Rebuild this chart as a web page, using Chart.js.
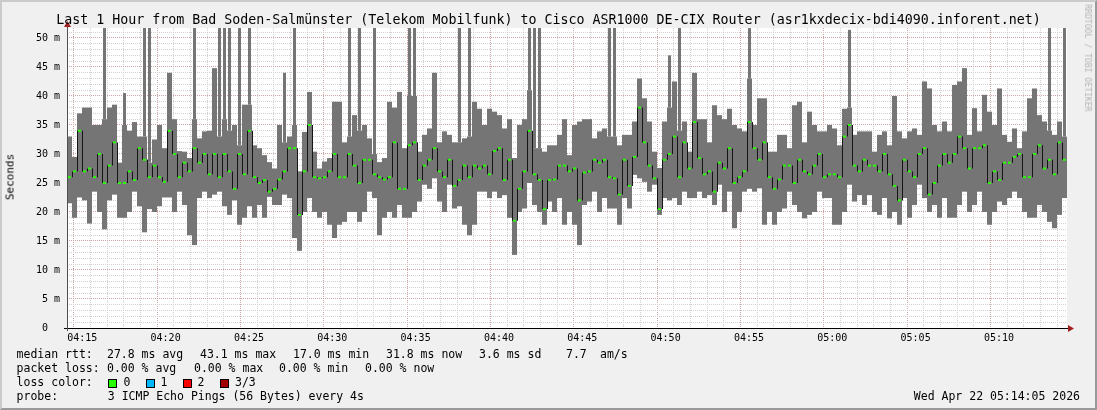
<!DOCTYPE html>
<html><head><meta charset="utf-8">
<script src="https://cdn.jsdelivr.net/npm/chart.js@4.4.1/dist/chart.umd.min.js"></script>
<style>
html,body{margin:0;padding:0;background:#f0f0f0;}
#wrap{position:relative;width:1097px;height:410px;overflow:hidden;background:#f0f0f0;}
#frame{position:absolute;left:0;top:0;width:1097px;height:410px;box-sizing:border-box;border-top:2px solid #cbcbcb;border-left:2px solid #cbcbcb;border-right:2px solid #999;border-bottom:2px solid #999;pointer-events:none;}
canvas{position:absolute;left:0;top:0;}
.t{position:absolute;font-family:"DejaVu Sans Mono",monospace;white-space:pre;color:#000;line-height:1;}
.l{font-size:11.5px;}
.box{position:absolute;width:7px;height:7px;border:1px solid #000;}
</style></head>
<body><div id="wrap">
<canvas id="c" width="1097" height="410"></canvas>
<div class="t" style="left:0;width:1097px;text-align:center;top:12.7px;font-size:13.3px">Last 1 Hour from Bad Soden-Salmünster (Telekom Mobilfunk) to Cisco ASR1000 DE-CIX Router (asr1kxdecix-bdi4090.inforent.net)</div>
<div class="t" style="left:10px;top:177px;font-size:11px;transform:translate(-50%,-50%) rotate(-90deg);">Seconds</div>
<div class="t" style="left:1087.5px;top:58px;font-size:8.1px;color:#b4b4b4;transform:translate(-50%,-50%) rotate(90deg);">RRDTOOL / TOBI OETIKER</div>

<div class="t l" style="left:16.6px;top:348.8px">median rtt:</div>
<div class="t l" style="left:107px;top:348.8px">27.8 ms avg</div>
<div class="t l" style="left:200px;top:348.8px">43.1 ms max</div>
<div class="t l" style="left:293px;top:348.8px">17.0 ms min</div>
<div class="t l" style="left:386px;top:348.8px">31.8 ms now</div>
<div class="t l" style="left:479px;top:348.8px">3.6 ms sd</div>
<div class="t l" style="left:566px;top:348.8px">7.7</div>
<div class="t l" style="left:600px;top:348.8px">am/s</div>

<div class="t l" style="left:16.6px;top:362.8px">packet loss:</div>
<div class="t l" style="left:107px;top:362.8px">0.00 % avg</div>
<div class="t l" style="left:194px;top:362.8px">0.00 % max</div>
<div class="t l" style="left:279px;top:362.8px">0.00 % min</div>
<div class="t l" style="left:365px;top:362.8px">0.00 % now</div>

<div class="t l" style="left:16.6px;top:376.8px">loss color:</div>
<div class="box" style="left:108px;top:378.5px;background:#26ff00"></div>
<div class="t l" style="left:123.5px;top:376.8px">0</div>
<div class="box" style="left:146px;top:378.5px;background:#00b8ff"></div>
<div class="t l" style="left:160.5px;top:376.8px">1</div>
<div class="box" style="left:183px;top:378.5px;background:#ff0000"></div>
<div class="t l" style="left:197.5px;top:376.8px">2</div>
<div class="box" style="left:220px;top:378.5px;background:#a00000"></div>
<div class="t l" style="left:235px;top:376.8px">3/3</div>

<div class="t l" style="left:16.6px;top:390.8px">probe:</div>
<div class="t l" style="left:107.8px;top:390.8px">3 ICMP Echo Pings (56 Bytes) every 4s</div>
<div class="t l" style="right:17px;top:390.8px">Wed Apr 22 05:14:05 2026</div>
<div id="frame"></div>
</div>
<script>
// time axis: minutes after 04:00; one sample every 18 s from 04:14:05 to 05:14:05
const startMinute = 14 + 5/60;
const endMinute = 74 + 5/60;
const sampleMinutes = 0.3;
const xTickMinutes = [15,20,25,30,35,40,45,50,55,60,65,70];
const xTickLabels = ["04:15","04:20","04:25","04:30","04:35","04:40","04:45","04:50","04:55","05:00","05:05","05:10"];
const yTickValues = [0,5,10,15,20,25,30,35,40,45,50];
const yTickLabels = ["0  ","5 m","10 m","15 m","20 m","25 m","30 m","35 m","40 m","45 m","50 m"];

// round-trip times in ms: lowest ping, highest usual ping, median ping per sample
const smokeMin = [
21.5,19,22.5,22,18,23.5,20,17,22,23, 19,19,20,23.5,21,16.5,20.5,20,21,22.5,
22.5,20,23.5,21.2,16,14.3,22.4,23.5,22.4,23, 23.5,21,19.5,22,17.8,19,21,19,21.2,19,
22.6,21.2,21.2,23,22.4,15.5,13.3,20,22.4,20, 19,20,17.8,15.5,17.8,18.3,20,20,18.3,20,
23.5,22.4,16,19,20,19,21.2,19,19,20, 21.8,24.7,24,25.8,21.8,20,24.7,20.6,21,17.8,
16,17.8,23.5,23.5,22.4,23.5,22.4,22.9,19,12.6, 20,20.6,25,21.2,20,17.8,21.8,20,22.4,17.8,
20,17.8,14.3,21.2,21.8,23.5,20,22.4,20.6,20.6, 17.8,22.4,20.6,26.4,25.8,25.2,23.5,24.7,19.5,22.4,
22,22.4,21.2,23.5,22.4,22.4,23.5,22.4,22.9,21.2, 24.7,20,23.5,17.2,20,23.5,24,23.5,24.1,17.8,
20,17.8,20,20.6,23.5,21.2,20,18.9,19.5,20, 23.5,22.4,22.4,17.8,17.8,20,24.7,21.8,22.9,21.2,
22.9,20,19.5,22.4,18.9,20,17.8,22.4,19,21.2, 24.7,22.4,20,21.2,19,22.4,19,19,21.2,23.5,
20,21.2,23.5,20,17.8,20,21.8,21.2,22.4,23.5, 22.4,20,19,19,21.2,20,18.3,17.2,19.5,22.4];
const smokeMax = [
33,29.5,37,38,38,35,35,36,38,38.5, 28.5,35,34,35.5,33,33,28.5,32.5,35,31,
44,36,30.5,30.4,29.3,36,32.7,33.9,34,44.8, 33,36,34,35,31.5,38.5,38.5,31.5,31,29.8,
28.6,27.5,35,32,33,35,27,33.8,40.7,30.4, 27.5,28.7,29.3,39,39,32,33,36.7,34,35,
32.7,30,28.6,29.3,39,38,40.7,31,40,40, 30.4,33.3,34.4,44,32,33.9,33.3,32,32,32.7,
33,39,37.8,35,37.8,37.3,36.7,34.4,36,29.3, 35,36,41,31,31,30.4,31.5,31.5,33.3,36,
29.8,35,35.6,36,36,32.7,33.9,34.4,33,33, 31.5,33.3,33.3,35.6,43,39.6,35.6,30.4,27.6,35.6,
38,42.5,34,35.6,30.4,44,36,36,32,38.4, 36.7,36,37.8,35,34.4,33.9,43,35,39.6,39.6,
30.4,30.4,33.3,33.3,31,38.4,39,32,37.3,35, 33.9,33.9,35,34.4,31.5,37.8,38,33.3,33.9,33.9,
33.9,30.4,33.3,33.9,31.5,40,33.9,32.7,33.9,34.4, 33.3,42.5,41.3,35,33.9,35.6,33.9,41.9,42.5,44.8,
33.3,37.9,33.9,40.2,37.3,35,41.3,33.3,32.1,34.4, 31,33.9,39.6,41.3,36.7,35.6,34,33.3,35.6,33];
const medianRtt = [
26,27,34,27,27.5,26,30,25,28,32, 25,25,27,25.5,31,29,26,28,26,25.2,
34,30,26,28.5,27,31,28.5,30,26.5,30, 26,30,27,24,30,26.5,34,26,25,25.5,
23.5,24,25.6,27,31,31,19.5,27,35,26, 25.8,26,27,30,26,26,30,28,25,29,
29,26.5,26,25.6,26,32,24,24,31.5,32, 25.5,28,29,31,27,26,29,24.5,25.5,28,
26,28,27.5,28,26.5,30.5,31,25.5,29,18.5, 24,27,34,26.5,25.5,20.5,25.5,25.6,28,28,
27,27.5,22,26.8,27,29,28.5,29,26,25.8, 23,29,24.5,29.5,38,32,28,25.8,20.5,29,
30,33,26,32,27.5,35.5,29.3,26.5,27,23.5, 28.5,27.5,31,25,26,27,35.5,31,29,32,
26,24,25.6,28,28,25,29,27,26.5,28, 30,26,26.5,26.5,26,33,35,28,27,29,
28,28,27,30,26.5,24.5,22,29,27,26, 30,31,23,25,28,30,28.5,30,33,31,
27.5,31,31,31.5,25,27,25.5,28.5,28.5,29.5, 30,26,26,30,31.5,27.5,29,26.5,32,29];
// single slow pings that stick out above the smoke (sample index, ms)
const peakIndex = [7,11,15,16,25,30,31,32,34,36,43,45,56,58,61,68,69,78,80,92,93,94,108,109,120,122,136,156,196,199];
const peakRtt   = [52,40.5,52,52,52,52,52,52,52,52,44,52,52,52,52,52,52,52,52,52,52,52,52,52,47,52,51.7,51.4,52,52];

const sampleTime = i => startMinute + sampleMinutes * (i + 0.5);
const smokeData = smokeMin.map((v, i) => ({x: sampleTime(i), y: [v, smokeMax[i]]}));
const peakData = peakIndex.map((idx, k) => ({x: sampleTime(idx), y: [smokeMax[idx], peakRtt[k]]}));
const medianData = medianRtt.map((v, i) => ({x: sampleTime(i), y: [v - 0.17, v + 0.17]}));
const stepData = medianRtt.slice(1).map((v, k) => ({x: sampleTime(k + 1) - sampleMinutes / 2 + 0.03, y: [medianRtt[k], v]}));

const GRID = '#d1d1d1', MGRID = '#cda5a5';
const axisPlugin = {
  id: 'rrdAxes',
  afterDatasetsDraw(chart) {
    const {ctx, chartArea: a} = chart;
    ctx.save();
    ctx.lineWidth = 1;
    ctx.strokeStyle = '#000';
    ctx.beginPath();
    ctx.moveTo(a.left - 3, a.bottom + 0.5); ctx.lineTo(a.right + 3, a.bottom + 0.5);
    ctx.stroke();
    ctx.strokeStyle = '#505050';
    ctx.beginPath();
    ctx.moveTo(a.left + 0.5, a.bottom + 3); ctx.lineTo(a.left + 0.5, a.top - 4);
    ctx.stroke();
    ctx.fillStyle = '#a02020';
    ctx.beginPath();
    ctx.moveTo(a.right + 1, a.bottom - 3); ctx.lineTo(a.right + 7, a.bottom + 0.5); ctx.lineTo(a.right + 1, a.bottom + 4);
    ctx.closePath(); ctx.fill();
    ctx.beginPath();
    ctx.moveTo(a.left - 3, a.top - 1); ctx.lineTo(a.left + 0.5, a.top - 7); ctx.lineTo(a.left + 4, a.top - 1);
    ctx.closePath(); ctx.fill();
    ctx.restore();
  }
};

new Chart(document.getElementById('c'), {
  type: 'bar',
  data: {
    datasets: [
      {label: 'median', data: medianData, backgroundColor: '#26ff00', barThickness: 3, grouped: false, inflateAmount: 0, order: 1},
      {label: 'step', data: stepData, backgroundColor: '#151515', barThickness: 1, grouped: false, inflateAmount: 0, order: 2},
      {label: 'smoke', data: smokeData, backgroundColor: '#757575', barThickness: 5, grouped: false, inflateAmount: 0, order: 3},
      {label: 'peaks', data: peakData, backgroundColor: '#757575', barThickness: 3, grouped: false, inflateAmount: 0, order: 4}
    ]
  },
  options: {
    responsive: false,
    animation: false,
    devicePixelRatio: 1,
    layout: {padding: {top: 28, right: 30, left: 0, bottom: 0}},
    plugins: {legend: {display: false}, tooltip: {enabled: false}, title: {display: false}},
    scales: {
      x: {
        type: 'linear', min: startMinute, max: endMinute, offset: false,
        afterBuildTicks: s => { const t = []; for (let m = 15; m <= 74; m++) t.push({value: m}); s.ticks = t; },
        afterFit: s => { s.height = 82; },
        grid: {color: c => (c.tick && c.tick.value % 5 === 0) ? MGRID : GRID, lineWidth: 1, drawTicks: false},
        border: {display: false, dash: [1, 1]},
        ticks: {
          autoSkip: false, maxRotation: 0, padding: 4, color: '#000',
          font: {family: 'DejaVu Sans Mono', size: 10},
          callback: v => { const k = xTickMinutes.indexOf(v); return k >= 0 ? xTickLabels[k] : ''; }
        }
      },
      y: {
        min: 0, max: 51.72,
        afterBuildTicks: s => { const t = []; for (let m = 0; m <= 51; m++) t.push({value: m}); s.ticks = t; },
        afterFit: s => { s.width = 67; },
        grid: {color: c => (c.tick && c.tick.value % 5 === 0) ? MGRID : GRID, lineWidth: 1, drawTicks: false},
        border: {display: false, dash: [1, 1]},
        ticks: {
          autoSkip: false, padding: 7, color: '#000',
          font: {family: 'DejaVu Sans Mono', size: 10},
          callback: v => { const k = yTickValues.indexOf(v); return k >= 0 ? yTickLabels[k] : ''; }
        }
      }
    }
  },
  plugins: [axisPlugin, {id: 'bg', beforeDraw(chart) { const {ctx, chartArea: a} = chart; ctx.save(); ctx.fillStyle = '#fff'; ctx.fillRect(a.left, a.top, a.right - a.left, a.bottom - a.top); ctx.restore(); }}]
});
</script>
</body></html>
